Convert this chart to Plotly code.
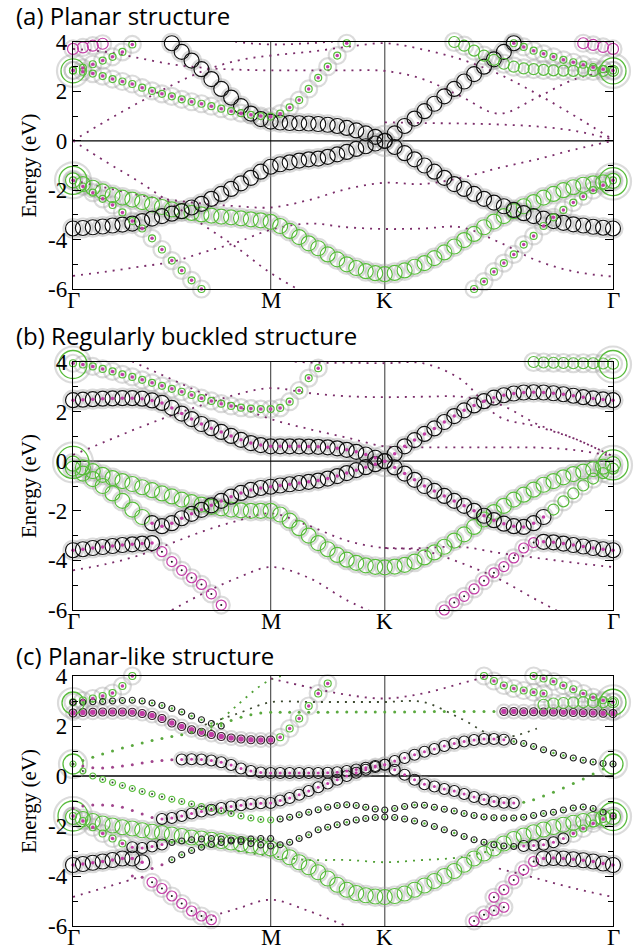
import numpy as np
import plotly.graph_objects as go

# ---------------- k-path  Γ - M - K - Γ  (|ΓM| = 1) ----------------
K_M = 1.0
K_K = K_M + 1.0 / np.sqrt(3.0)
K_G = K_K + 2.0 / np.sqrt(3.0)
kgrid = np.concatenate([
    np.linspace(0.0, K_M, 21),
    np.linspace(K_M, K_K, 13)[1:],
    np.linspace(K_K, K_G, 24)[1:],
])
knode = np.concatenate([
    np.linspace(0.0, K_M, 7),
    np.linspace(K_M, K_K, 4)[1:],
    np.linspace(K_K, K_G, 7)[1:],
])
KPOINT_LABELS = ["Γ", "M", "K", "Γ"]
Y_TICKS = [-6, -4, -2, 0, 2, 4]
Y_TICK_TEXT = ["-6", "-4", "-2", "0", "2", "4"]
TITLES = ["(a) Planar structure", "(b) Regularly buckled structure", "(c) Planar-like structure"]

# ---------------- (a) planar: projected bands (eV on kgrid) ----------------
A_PI = [-3.55, -3.53, -3.5, -3.47, -3.43, -3.39, -3.35, -3.25, -3.15, -3.05, -2.95, -2.85, -2.7, -2.55, -2.35, -2.15, -1.95, -1.72, -1.5, -1.25, -1.05,
        -0.95, -0.87, -0.8, -0.75, -0.72, -0.65, -0.55, -0.45, -0.33, -0.22, -0.11, 0.0,
        -0.25, -0.5, -0.75, -1.0, -1.25, -1.5, -1.75, -1.95, -2.15, -2.35, -2.5, -2.65, -2.8, -2.93, -3.05, -3.15, -3.25, -3.32, -3.38, -3.43, -3.48, -3.52, -3.55]
A_PISTAR = [3.95, 3.6, 3.25, 2.9, 2.5, 2.1, 1.75, 1.4, 1.1, 0.88, 0.78,
            0.74, 0.72, 0.71, 0.7, 0.68, 0.65, 0.6, 0.52, 0.42, 0.3, 0.16, 0.0,
            0.3, 0.6, 0.9, 1.2, 1.5, 1.8, 2.1, 2.4, 2.7, 3.0, 3.3, 3.6, 3.95]
A_GREEN_LOW = [-1.6, -1.75, -1.9, -2.05, -2.2, -2.3, -2.38, -2.48, -2.58, -2.68, -2.78, -2.85, -2.92, -2.98, -3.03, -3.07, -3.1, -3.14, -3.18, -3.22, -3.28,
               -3.45, -3.65, -3.9, -4.15, -4.35, -4.6, -4.8, -5.0, -5.15, -5.28, -5.36, -5.4,
               -5.35, -5.25, -5.1, -4.95, -4.75, -4.52, -4.28, -4.02, -3.77, -3.5, -3.27, -3.05, -2.85, -2.65, -2.48, -2.3, -2.15, -2.0, -1.88, -1.78, -1.72, -1.68, -1.62]
A_STEEP_L = [-1.6, -1.85, -2.1, -2.35, -2.6, -2.9, -3.25, -3.55, -3.95, -4.4, -4.85, -5.25, -5.65, -6.0]
A_STEEP_R = [-6.0, -5.7, -5.3, -4.95, -4.6, -4.2, -3.85, -3.45, -3.1, -2.8, -2.5, -2.25, -2.0, -1.8, -1.6]
A_UP_L = [2.85, 2.8, 2.72, 2.62, 2.5, 2.4, 2.3, 2.15, 2.02, 1.9, 1.8, 1.68, 1.58, 1.5, 1.4, 1.3, 1.2, 1.12, 1.05, 1.0, 0.98,
          1.1, 1.35, 1.65, 2.1, 2.55, 3.0, 3.45, 3.95]
A_TOP_L = [2.85, 2.95, 3.1, 3.25, 3.4, 3.6, 3.9]
A_MAG_L = [3.72, 3.78, 3.85, 3.93]
A_MAG_R = [3.95, 3.88, 3.8, 3.72]
A_TOP_R1 = [4.0, 3.85, 3.65, 3.45, 3.28, 3.12, 3.0, 2.93, 2.9, 2.87, 2.85, 2.84, 2.83, 2.83, 2.83, 2.83, 2.83]
A_TOP_R2 = [3.95, 3.8, 3.65, 3.52, 3.4, 3.28, 3.18, 3.08, 2.98, 2.9, 2.85]
A_GAMMA_L = [-1.6, 2.83]
A_GAMMA_R = [-1.65, 2.83]
# plain bands (eV on knode)
A_PLAIN = [
    [0.0, 0.8, 1.55, 2.25, 2.85, 3.25, 3.45, 3.6, 3.8, 3.95, 3.7, 3.3, 2.7, 1.9, 1.0, 0.05],
    [0.0, -0.85, -1.65, -2.55, -3.45, -4.35, -5.35, -6.2, -6.6, -6.7, None, None, None, None, None, None],
    [-5.47, -5.3, -5.1, -4.9, -4.5, -4.1, -3.6, -3.35, -3.5, -3.57, -3.55, -3.5, -4.1, -4.85, -5.3, -5.5],
    [-1.6, -1.9, -2.2, -2.4, -2.55, -2.65, -2.7, -2.4, -1.95, -1.7, -1.75, -1.5, -1.1, -0.75, -0.35, 0.0],
    [3.72, 3.6, 3.35, 3.1, 2.95, 2.88, 2.85, 2.85, 2.85, 2.83, 2.5, 1.8, 1.1, 1.75, 2.5, 2.83],
    [None, None, None, None, None, None, None, None, None, 0.75, 0.72, 0.7, 0.66, 0.58, 0.4, 0.05],
    [None, None, None, 4.4, 4.2, 4.0, 3.9, 3.95, 4.05, 4.1, None, None, None, None, None, None],
]

# ---------------- (b) regularly buckled ----------------
B_UPPER = [2.46, 2.48, 2.5, 2.52, 2.53, 2.54, 2.54, 2.52, 2.45, 2.35, 2.15, 1.92, 1.7, 1.5, 1.33, 1.18, 1.02, 0.86, 0.73, 0.65, 0.6,
           0.6, 0.6, 0.6, 0.59, 0.58, 0.56, 0.52, 0.46, 0.38, 0.27, 0.14, 0.0,
           0.3, 0.6, 0.85, 1.1, 1.32, 1.58, 1.82, 2.05, 2.25, 2.42, 2.56, 2.66, 2.73, 2.77, 2.78, 2.77, 2.74, 2.7, 2.64, 2.58, 2.53, 2.49, 2.46]
B_TOP = [3.95, 3.9, 3.82, 3.72, 3.62, 3.5, 3.4, 3.28, 3.16, 3.04, 2.92, 2.8, 2.67, 2.54, 2.43, 2.32, 2.23, 2.16, 2.12, 2.1, 2.1,
         2.15, 2.4, 2.85, 3.35, 3.75, 4.05]
B_TOP_R = [4.0, 3.98, 3.97, 3.96, 3.95, 3.95, 3.95, 3.94, 3.93]
B_LOWER = [-0.3, -0.5, -0.72, -1.0, -1.3, -1.6, -1.95, -2.25, -2.5, -2.62, -2.5, -2.3, -2.12, -1.96, -1.78, -1.6, -1.43, -1.28, -1.16, -1.08, -1.03,
           -0.98, -0.93, -0.88, -0.83, -0.78, -0.7, -0.6, -0.48, -0.36, -0.24, -0.12, 0.0,
           -0.25, -0.5, -0.75, -1.0, -1.2, -1.4, -1.6, -1.8, -2.0, -2.2, -2.38, -2.52, -2.62, -2.65, -2.5, -2.25, -1.95, -1.62, -1.3, -0.98, -0.7, -0.48, -0.3]
B_GREEN = [-0.1, -0.25, -0.4, -0.55, -0.68, -0.8, -0.92, -1.05, -1.17, -1.3, -1.42, -1.55, -1.65, -1.75, -1.84, -1.9, -1.95, -1.98, -2.0, -2.0, -2.0,
           -2.15, -2.4, -2.7, -3.0, -3.3, -3.55, -3.78, -3.97, -4.1, -4.2, -4.26, -4.28,
           -4.25, -4.18, -4.05, -3.88, -3.68, -3.45, -3.2, -2.95, -2.65, -2.35, -2.05, -1.8, -1.55, -1.35, -1.15, -0.95, -0.8, -0.65, -0.52, -0.42, -0.32, -0.22, -0.12]
B_LOW_L = [-3.59, -3.55, -3.5, -3.46, -3.42, -3.38, -3.35, -3.32, -3.3, -3.65, -4.05, -4.4, -4.7, -4.97, -5.35, -5.8]
B_LOW_R = [-6.0, -5.7, -5.45, -5.15, -4.82, -4.5, -4.25, -3.9, -3.5, -3.28, -3.25, -3.27, -3.32, -3.38, -3.44, -3.5, -3.55, -3.59]
B_GAMMA_L = [-0.05, 3.9]
B_GAMMA_R = [-0.15, 3.9]
B_PLAIN = [
    [0.25, 0.8, 1.35, 1.85, 2.3, 2.7, 2.95, 2.75, 2.62, 2.58, 2.6, 2.6, 2.3, 1.5, 0.9, 0.2],
    [5.0, 4.5, 3.9, 3.3, 2.7, 2.2, 1.7, 1.3, 0.95, 0.6, 0.56, 0.56, 0.56, 0.55, 0.45, 0.2],
    [None, None, None, None, None, None, 4.1, 3.98, 3.97, 3.95, 3.95, 3.3, 1.8, 1.4, 0.9, 0.2],
    [-4.4, -4.15, -3.8, -3.3, -2.8, -2.4, -2.1, -2.6, -3.2, -3.5, -3.5, -3.45, -3.7, -3.9, -4.1, -4.27],
    [None, None, None, -6.0, -5.3, -4.7, -4.27, -4.7, -5.6, -6.3, None, None, None, None, None, None],
    [None, None, None, None, None, None, None, None, None, -3.5, -3.6, -4.1, -4.75, -5.6, -6.4, None],
]

# ---------------- (c) planar-like ----------------
C_TOP_G = [2.95, 3.02, 3.1, 3.2, 3.32, 3.6, 4.0]
C_DARK = [2.95, 2.95, 2.97, 2.98, 3.0, 3.02, 3.03, 3.0, 2.92, 2.82, 2.7, 2.56, 2.4, 2.25, 2.1, 2.0]
C_MAG = [2.52, 2.54, 2.55, 2.56, 2.56, 2.56, 2.55, 2.5, 2.42, 2.3, 2.12, 1.98, 1.85, 1.75, 1.66, 1.58, 1.52, 1.48, 1.45, 1.44, 1.44,
         1.55, 1.9, 2.3, 2.8, 3.3, 3.7, 4.05]
C_NEAR0 = [0.48, 0.4, 0.33, 0.32, 0.35, 0.4, 0.45, 0.52, 0.58, 0.62, 0.65, 0.66, 0.67, 0.66, 0.62, 0.55, 0.44, 0.3, 0.2, 0.14, 0.12,
           0.12, 0.12, 0.12, 0.12, 0.12, 0.13, 0.15, 0.2, 0.26, 0.33, 0.4, 0.45,
           0.6, 0.72, 0.85, 0.97, 1.08, 1.2, 1.3, 1.38, 1.44, 1.48, 1.48, 1.45, 1.38, 1.3, 1.18, 1.05, 0.92, 0.82, 0.72, 0.63, 0.56, 0.5, 0.48]
C_FLAT = [0.48, 0.62, 0.75, 0.88, 1.0, 1.12, 1.22, 1.32, 1.42, 1.5, 1.58, 1.65, 1.75, 1.85, 1.98, 2.1, 2.22, 2.35, 2.45, 2.52, 2.55,
          2.55, 2.55, 2.55, 2.55, 2.55, 2.55, 2.56, 2.56, 2.56, 2.56, 2.56, 2.56,
          2.56, 2.56, 2.57, 2.57, 2.58, 2.58, 2.58, 2.58, 2.58, 2.58, 2.58, 2.58, 2.58, 2.57, 2.57, 2.56, 2.56, 2.55, 2.54, 2.53, 2.52, 2.51, 2.5]
C_CROSS = [-1.3, -1.2, -1.16, -1.16, -1.18, -1.25, -1.38, -1.52, -1.66, -1.72, -1.68, -1.6, -1.5, -1.42, -1.35, -1.28, -1.22, -1.17, -1.12, -1.09, -1.08,
           -0.98, -0.88, -0.75, -0.6, -0.45, -0.3, -0.15, 0.0, 0.13, 0.25, 0.36, 0.45,
           0.25, 0.05, -0.15, -0.33, -0.42, -0.52, -0.6, -0.72, -0.84, -0.94, -1.02, -1.07, -1.08, -1.05, -0.95, -0.8, -0.65, -0.48, -0.3, -0.12, 0.08, 0.28, 0.48]
C_MID = [0.48, 0.2, 0.0, -0.14, -0.26, -0.38, -0.5, -0.62, -0.72, -0.83, -0.93, -1.02, -1.12, -1.22, -1.3, -1.4, -1.5, -1.6, -1.68, -1.74, -1.76,
         -1.72, -1.65, -1.55, -1.45, -1.35, -1.25, -1.18, -1.15, -1.18, -1.25, -1.32, -1.36,
         -1.3, -1.22, -1.16, -1.17, -1.25, -1.33, -1.4, -1.5, -1.58, -1.64, -1.67, -1.68, -1.68, -1.65, -1.58, -1.5, -1.45, -1.36, -1.28, -1.24, -1.3, -1.45, -1.6]
C_GREEN = [-1.64, -1.72, -1.8, -1.9, -1.98, -2.05, -2.1, -2.17, -2.23, -2.28, -2.34, -2.4, -2.46, -2.5, -2.55, -2.6, -2.66, -2.72, -2.78, -2.84, -2.9,
           -3.05, -3.25, -3.45, -3.65, -3.85, -4.1, -4.35, -4.55, -4.68, -4.77, -4.82, -4.84,
           -4.8, -4.7, -4.55, -4.38, -4.2, -4.0, -3.8, -3.55, -3.3, -3.1, -2.9, -2.7, -2.52, -2.38, -2.25, -2.14, -2.04, -1.95, -1.87, -1.8, -1.74, -1.68, -1.64]
C_LOWMIX = [-1.6, -1.8, -2.05, -2.3, -2.5, -2.7, -2.85, -2.88, -2.82, -2.74, -2.66, -2.6, -2.55, -2.52, -2.5, -2.52, -2.56, -2.62, -2.7, -2.76, -2.8,
            -2.75, -2.65, -2.5, -2.35, -2.15, -2.05, -1.95, -1.85, -1.76, -1.7, -1.66, -1.64,
            -1.66, -1.72, -1.8, -1.9, -2.02, -2.15, -2.28, -2.42, -2.55, -2.65, -2.75, -2.8, -2.82, -2.8, -2.78, -2.75, -2.65, -2.5, -2.3, -2.1, -1.9, -1.72, -1.6]
C_LOW_L = [-3.56, -3.52, -3.47, -3.42, -3.36, -3.3, -3.3, -3.45, -3.7, -3.55, -3.35, -3.15, -2.98, -2.85, -2.74, -2.66, -2.6, -2.55, -2.52, -2.5, -2.5]
C_LOW_R = [-4.85, -4.55, -4.16, -3.75, -3.42, -3.3, -3.28, -3.3, -3.33, -3.37, -3.42, -3.5, -3.56]
C_BOT_R = [-6.05, -5.8, -5.55, -5.38, -5.25]
C_BOT_L = [-4.0, -4.05, -4.25, -4.5, -4.8, -5.1, -5.4, -5.6, -5.75]
C_TR1 = [4.0, 3.8, 3.62, 3.5, 3.42, 3.35, 3.3]
C_TR2 = [4.0, 3.9, 3.78, 3.62, 3.47, 3.3, 3.15, 3.03, 2.96]
C_TR3 = [2.85, 2.9, 2.92, 2.94, 2.95, 2.95, 2.95, 2.95]
C_GAMMA_L = [2.92, 0.48, -1.6]
C_GAMMA_R = [2.95, 0.48, -1.62]
C_PLAIN = [
    [None, None, None, None, 1.6, 2.85, 3.85, 4.2, None, None, None, None, None, None, None, None],
    [None, None, None, None, 2.05, 2.5, 2.95, 2.96, 2.96, 2.96, 2.96, 2.3, 1.55, 1.9, None, None],
    [None, None, None, None, None, None, 3.9, 3.55, 3.25, 3.1, 3.3, 3.7, 4.1, None, None, None],
    [-4.84, -4.45, -4.05, None, None, None, None, None, None, None, None, None, None, None, None, None],
    [None, None, None, None, -5.7, -5.3, -4.95, -5.4, -6.0, -6.5, None, None, None, None, None, None],
    [None, None, None, None, None, -3.0, -3.2, -3.36, -3.36, -3.45, -3.36, -3.25, -2.9, None, None, None],
    [None, None, None, None, None, None, None, None, None, None, None, None, -3.7, -4.1, -4.5, -4.84],
]

# ---------------- styling ----------------
GREEN = "#58bb3c"
MAGENTA = "#c23ca6"
BLACK = "#111111"
PLAIN = "#7b2d6a"
PLAIN_G = "#4f9f34"
HALO = "rgba(160,160,160,0.38)"
SERIF = "Liberation Serif, Times New Roman, serif"

# marker layers: halo (gray ring), ring (coloured open circle), dot (filled centre)
STYLE = {
    "blk":   dict(halo=19, ring=(BLACK, 15)),
    "blk_m": dict(halo=19, ring=(BLACK, 15), dot=(MAGENTA, 3.5)),
    "blk_c": dict(halo=15, ring=(BLACK, 11), dot=(MAGENTA, 3)),
    "grn":   dict(halo=19, ring=(GREEN, 15)),
    "grn_b": dict(halo=18, ring=(GREEN, 11)),
    "grn_m": dict(halo=17, ring=(GREEN, 7), dot=(MAGENTA, 3.5)),
    "grn_s": dict(ring=(GREEN, 6), dot=("#333333", 2)),
    "mag":   dict(halo=17, ring=(MAGENTA, 10), dot=(BLACK, 2)),
    "mag_r": dict(halo=17, ring=(MAGENTA, 11)),
    "mag_f": dict(halo=14, ring=("#3a2030", 8), dot=(MAGENTA, 5.5)),
    "dark":  dict(ring=("#222222", 6), dot=(GREEN, 2.5)),
    "pt_g":  dict(dot=("#5aa83e", 3)),
    "pt_m":  dict(dot=("#a0448c", 3)),
}

# band table per panel: (values, first kgrid index, [(i0, i1, style)])
FAT = [
    [
        (A_GREEN_LOW, 0, [(0, 56, "grn")]),
        (A_PI, 0, [(0, 56, "blk")]),
        (A_PISTAR, 10, [(10, 46, "blk")]),
        (A_STEEP_L, 0, [(0, 14, "grn_m")]),
        (A_STEEP_R, 41, [(41, 56, "grn_m")]),
        (A_UP_L, 0, [(0, 29, "grn_m")]),
        (A_TOP_L, 0, [(0, 7, "grn_m")]),
        (A_MAG_L, 0, [(0, 4, "mag_r")]),
        (A_MAG_R, 52, [(52, 56, "mag_r")]),
        (A_TOP_R1, 39, [(39, 56, "grn_b")]),
        (A_TOP_R2, 45, [(45, 56, "grn_m")]),
    ],
    [
        (B_GREEN, 0, [(0, 56, "grn")]),
        (B_UPPER, 0, [(0, 56, "blk_m")]),
        (B_LOWER, 0, [(0, 8, "grn"), (8, 49, "blk_m"), (49, 56, "grn_b")]),
        (B_TOP, 0, [(0, 27, "grn_m")]),
        (B_TOP_R, 47, [(47, 56, "grn_b")]),
        (B_LOW_L, 0, [(0, 9, "blk_m"), (9, 16, "mag")]),
        (B_LOW_R, 38, [(38, 48, "mag"), (48, 56, "blk_m")]),
    ],
    [
        (C_GREEN, 0, [(0, 56, "grn")]),
        (C_TOP_G, 0, [(0, 7, "grn_m")]),
        (C_DARK, 0, [(0, 16, "dark")]),
        (C_MAG, 0, [(0, 21, "mag_f"), (21, 28, "grn_m")]),
        (C_NEAR0, 0, [(0, 11, "pt_m"), (11, 45, "blk_c"), (45, 56, "dark")]),
        (C_FLAT, 0, [(0, 44, "pt_g"), (44, 56, "mag_f")]),
        (C_CROSS, 0, [(0, 9, "pt_m"), (9, 46, "blk_c"), (46, 56, "pt_g")]),
        (C_MID, 0, [(0, 21, "grn_s"), (21, 56, "dark")]),
        (C_LOWMIX, 0, [(0, 6, "grn_m"), (6, 10, "blk_c"), (10, 46, "dark"), (46, 51, "blk_c"), (51, 56, "grn_m")]),
        (C_LOW_L, 0, [(0, 8, "blk_m"), (8, 10, "pt_m"), (10, 21, "dark")]),
        (C_LOW_R, 43, [(43, 48, "mag"), (48, 56, "blk_m")]),
        (C_BOT_R, 40, [(40, 45, "mag")]),
        (C_BOT_L, 6, [(6, 8, "pt_m"), (8, 15, "mag")]),
        (C_TR1, 42, [(42, 49, "grn_m")]),
        (C_TR2, 47, [(47, 56, "grn_m")]),
        (C_TR3, 48, [(48, 56, "grn_b")]),
    ],
]
GAMMA = [
    (A_GAMMA_L, A_GAMMA_R, [28, 24], [28, 26]),
    (B_GAMMA_L, B_GAMMA_R, [32, 28], [30, 28]),
    (C_GAMMA_L, C_GAMMA_R, [22, 20, 30], [26, 20, 28]),
]
DIRAC_HALO = [True, True, False]
PLAIN_BANDS = [
    [(v, PLAIN) for v in A_PLAIN],
    [(v, PLAIN) for v in B_PLAIN],
    [(C_PLAIN[0], PLAIN_G), (C_PLAIN[1], "#3d4a30"), (C_PLAIN[2], PLAIN), (C_PLAIN[3], PLAIN),
     (C_PLAIN[4], PLAIN), (C_PLAIN[5], PLAIN_G), (C_PLAIN[6], PLAIN)],
]

X_DOM = [73 / 637, 613 / 637]
Y_DOMS = [(1 - 289 / 950, 1 - 42 / 950), (1 - 610 / 950, 1 - 362 / 950), (1 - 926 / 950, 1 - 676 / 950)]
TITLE_Y = [1 - 16 / 950, 1 - 335 / 950, 1 - 655 / 950]

fig = go.Figure()


def scatter(ax, k, e, **kw):
    return go.Scatter(x=k, y=e, xaxis="x" + ax, yaxis="y" + ax, hoverinfo="skip",
                      showlegend=False, cliponaxis=False, **kw)


def ring(ax, k, e, color, size, width=1.2):
    return scatter(ax, k, e, mode="markers",
                   marker=dict(symbol="circle-open", size=size, color=color, line=dict(width=width)))


def dot(ax, k, e, color, size):
    return scatter(ax, k, e, mode="markers",
                   marker=dict(symbol="circle", size=size, color=color, line=dict(width=0)))


for p in range(3):
    ax = "" if p == 0 else str(p + 1)
    halos, rings, dots = [], [], []
    for values, start, segs in FAT[p]:
        k = kgrid[start:start + len(values)]
        e = np.array(values, dtype=float)
        for i0, i1, name in segs:
            ks, es = k[i0 - start:i1 - start], e[i0 - start:i1 - start]
            st = STYLE[name]
            if "halo" in st:
                halos.append(ring(ax, ks, es, HALO, st["halo"], 2.2))
            if "ring" in st:
                rings.append(ring(ax, ks, es, st["ring"][0], st["ring"][1]))
            if "dot" in st:
                dots.append(dot(ax, ks, es, st["dot"][0], st["dot"][1]))
    # degenerate states at Γ
    gl, gr, sl, sr = GAMMA[p]
    for ks, es, ss in ((0.0, gl, sl), (K_G, gr, sr)):
        for e, s in zip(es, ss):
            halos.append(ring(ax, [ks], [e], HALO, s + 8, 2.2))
            rings.append(ring(ax, [ks], [e], GREEN, s, 1.3))
    # Dirac point at K
    if DIRAC_HALO[p]:
        halos.append(ring(ax, [K_K], [0.0], HALO, 30, 2.2))

    for tr in halos:
        fig.add_trace(tr)
    for vals, col in PLAIN_BANDS[p]:
        fig.add_trace(scatter(ax, knode, vals, mode="lines", connectgaps=False,
                              line=dict(color=col, width=1.8, dash="2px,6px", shape="spline", smoothing=1.0)))
    for tr in rings + dots:
        fig.add_trace(tr)

    # high-symmetry verticals and Fermi level
    for kv in (K_M, K_K):
        fig.add_shape(type="line", xref="x" + ax, yref="y" + ax, x0=kv, x1=kv, y0=-6, y1=4,
                      line=dict(color="#555555", width=1.2), layer="below")
    fig.add_shape(type="line", xref="x" + ax, yref="y" + ax, x0=0, x1=K_G, y0=0, y1=0,
                  line=dict(color="black", width=1.3), layer="below")

    # k-point labels under the panel
    for kv, lab in zip([0.0, K_M, K_K, K_G], KPOINT_LABELS):
        fig.add_annotation(text=lab, xref="x" + ax, yref="y" + ax + " domain", x=kv, y=0,
                           xanchor="center", yanchor="top", yshift=0, height=19, showarrow=False,
                           font=dict(family=SERIF, size=23, color="black"))

    fig.update_layout(**{
        "xaxis" + ax: dict(domain=X_DOM, anchor="y" + ax, range=[0, K_G], automargin=False,
                           showticklabels=False, ticks="",
                           showline=True, mirror=True, linecolor="black", linewidth=1.3,
                           showgrid=False, zeroline=False),
        "yaxis" + ax: dict(domain=list(Y_DOMS[p]), anchor="x" + ax, range=[-6, 4], automargin=False,
                           tickvals=Y_TICKS, ticktext=Y_TICK_TEXT, ticks="inside", ticklen=8,
                           tickcolor="black", tickwidth=1.2,
                           minor=dict(ticks="inside", ticklen=5, dtick=1, tick0=0,
                                      tickcolor="black", tickwidth=1.2),
                           tickfont=dict(family=SERIF, size=23, color="black"),
                           showline=True, mirror="ticks", linecolor="black", linewidth=1.3,
                           showgrid=False, zeroline=False,
                           title=dict(text="Energy (eV)", standoff=5,
                                      font=dict(family=SERIF, size=21, color="black"))),
    })
    fig.add_annotation(text=TITLES[p], xref="paper", yref="paper", x=14 / 637, y=TITLE_Y[p],
                       xanchor="left", yanchor="middle", showarrow=False,
                       font=dict(family="Open Sans", size=24, color="black"))

fig.update_layout(width=637, height=950, margin=dict(l=0, r=0, t=0, b=0, autoexpand=False),
                  paper_bgcolor="white", plot_bgcolor="white")
fig.write_html("out.html")
